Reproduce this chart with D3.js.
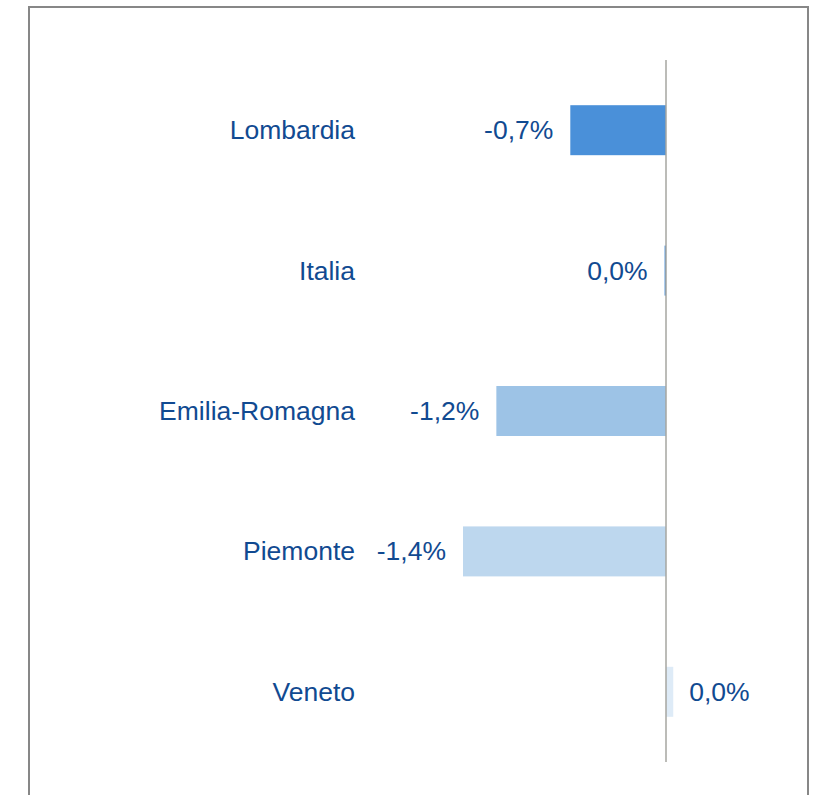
<!DOCTYPE html>
<html><head><meta charset="utf-8">
<script src="https://cdn.jsdelivr.net/npm/d3@7"></script>
<style>html,body{margin:0;padding:0;background:#fff;}svg{display:block;}</style>
</head><body>
<script>
const categories = ["Lombardia", "Italia", "Emilia-Romagna", "Piemonte", "Veneto"];
const values = [-0.66, -0.01, -1.17, -1.40, 0.05];
const valueLabels = ["-0,7%", "0,0%", "-1,2%", "-1,4%", "0,0%"];
const barColors = ["#4a90d9", "#4a90d9", "#9dc3e6", "#bdd7ee", "#deebf7"];

const W = 813, H = 795;
const svg = d3.select("body").append("svg").attr("width", W).attr("height", H);

svg.append("rect").attr("x", 29).attr("y", 7).attr("width", 779).attr("height", 820)
  .attr("fill", "none").attr("stroke", "#878787").attr("stroke-width", 2);

const x = d3.scaleLinear().domain([-1.6, 0.8]).range([666 - 1.6 * 145, 666 + 0.8 * 145]);
const y = d3.scaleBand().domain(categories).range([60, 762]).paddingInner(0.644).paddingOuter(0.322);

const data = categories.map((c, i) => ({c, v: values[i], l: valueLabels[i], col: barColors[i]}));

svg.selectAll("rect.bar").data(data).enter().append("rect").attr("class", "bar")
  .attr("x", d => x(Math.min(0, d.v)))
  .attr("width", d => Math.abs(x(d.v) - x(0)))
  .attr("y", d => y(d.c)).attr("height", y.bandwidth())
  .attr("fill", d => d.col);

svg.append("line").attr("x1", x(0)).attr("x2", x(0)).attr("y1", 60).attr("y2", 762)
  .attr("stroke", "#a6a6a0").attr("stroke-width", 1.5);

const font = "'Liberation Sans', Arial, sans-serif";
const fs = 26.5;
svg.selectAll("text.cat").data(data).enter().append("text").attr("class", "cat")
  .attr("x", 355).attr("y", d => y(d.c) + y.bandwidth() / 2)
  .attr("dy", "0.34em").attr("text-anchor", "end")
  .attr("font-family", font).attr("font-size", fs).attr("fill", "#114a91")
  .text(d => d.c);

svg.selectAll("text.val").data(data).enter().append("text").attr("class", "val")
  .attr("x", d => d.v < 0 ? x(d.v) - 17 : x(d.v) + 16)
  .attr("y", d => y(d.c) + y.bandwidth() / 2)
  .attr("dy", "0.34em").attr("text-anchor", d => d.v < 0 ? "end" : "start")
  .attr("font-family", font).attr("font-size", fs).attr("fill", "#114a91")
  .text(d => d.l);
</script>
</body></html>
